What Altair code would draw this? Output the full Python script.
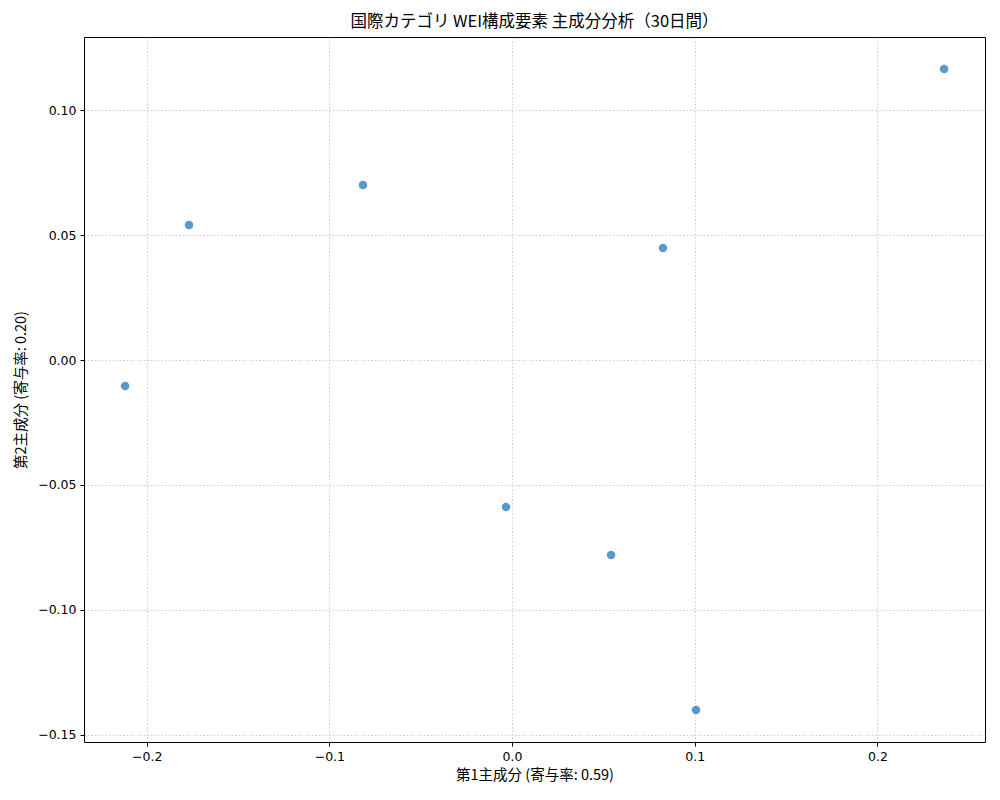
import altair as alt
import pandas as pd

pc1 = [0.2365, -0.0816, -0.1768, 0.0826, -0.2118, -0.0033, 0.0542, 0.1007]
pc2 = [0.1166, 0.0701, 0.0541, 0.0449, -0.0104, -0.0589, -0.0781, -0.1402]
x_ticks = [-0.2, -0.1, 0.0, 0.1, 0.2]
y_ticks = [-0.15, -0.10, -0.05, 0.0, 0.05, 0.10]

df = pd.DataFrame({"pc1": pc1, "pc2": pc2})
FONT = "Noto Sans CJK JP"
NUMFONT = "DejaVu Sans"

chart = alt.Chart(df).mark_circle(size=72, color="#1f77b4", opacity=0.75).encode(
    x=alt.X("pc1:Q", scale=alt.Scale(domain=[-0.2343, 0.2589], nice=False, zero=False),
            axis=alt.Axis(title="第1主成分 (寄与率: 0.59)", values=x_ticks,
                          labelExpr="replace(format(datum.value, '.1f'), '-', '−')")),
    y=alt.Y("pc2:Q", scale=alt.Scale(domain=[-0.1530, 0.1294], nice=False, zero=False),
            axis=alt.Axis(title="第2主成分 (寄与率: 0.20)", values=y_ticks,
                          labelExpr="replace(format(datum.value, '.2f'), '-', '−')")),
).properties(
    width=901, height=705,
    title=alt.TitleParams("国際カテゴリ WEI構成要素 主成分分析（30日間）", font=FONT,
                          fontSize=16.5, fontWeight="normal", color="black", offset=7),
    autosize=alt.AutoSizeParams(type="none"),
    padding={"left": 76, "top": 29, "right": 7, "bottom": 50},
).configure_view(
    stroke="black", strokeWidth=1
).configure_axis(
    labelFont=NUMFONT, titleFont=FONT, labelFontSize=12.5, titleFontSize=14.5,
    labelColor="black", titleColor="black", titleFontWeight="normal",
    domain=False, tickColor="black", tickSize=4, tickWidth=1,
    grid=True, gridColor="#b0b0b0", gridDash=[1.5, 2], gridWidth=0.8, gridOpacity=0.8,
    labelPadding=4,
).configure_axisX(titlePadding=6).configure_axisY(titlePadding=9)

chart.save("out.html", embed_options={"renderer": "svg", "actions": False})
